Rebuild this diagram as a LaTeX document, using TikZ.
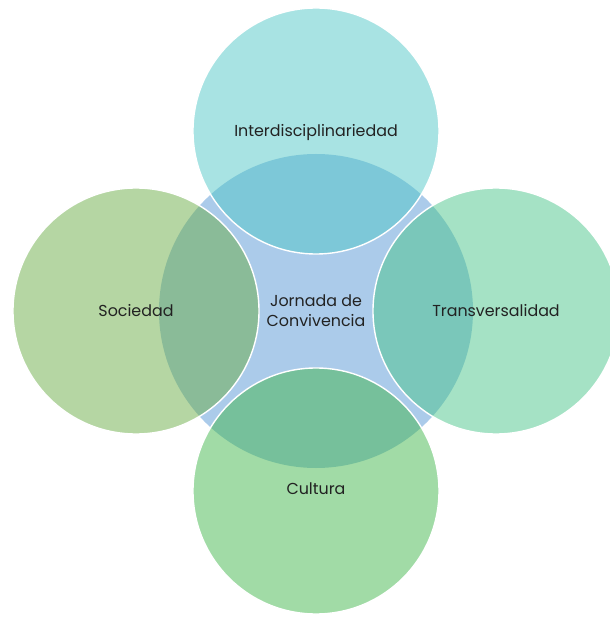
\documentclass[tikz,border=0pt]{standalone}
\usepackage{fontspec}
\setmainfont{Poppins}
\usepackage{tkz-euclide}
\usepackage{tikz}

\definecolor{topc}{RGB}{81,199,199}
\definecolor{leftc}{RGB}{107,173,71}
\definecolor{rightc}{RGB}{75,197,139}
\definecolor{botc}{RGB}{67,183,77}
\definecolor{midc}{RGB}{171,203,234}
\definecolor{txtc}{RGB}{34,34,34}

\tikzset{
  ring/.style={fill opacity=0.5, draw=white, draw opacity=1, line width=1pt},
  lbl/.style={text=txtc, font=\fontsize{11.3}{14.2}\selectfont, align=center}
}

\begin{document}
\begin{tikzpicture}
	\useasboundingbox (-7.9,-7.7) rectangle (7.35,7.775);
	\tkzDefPoint(0,0){O}
	\tkzDefPoint(0,4.5){T}
	\tkzDefPoint(-4.5,0){L}
	\tkzDefPoint(4.5,0){R}
	\tkzDefPoint(0,-4.5){B}

	%CIRCLES

	\fill[midc] (O) circle (3.925);
	\filldraw[ring, fill=topc] (T) circle (3.075);
	\filldraw[ring, fill=leftc] (L) circle (3.075);
	\filldraw[ring, fill=rightc] (R) circle (3.075);
	\filldraw[ring, fill=botc] (B) circle (3.075);

	%LABELS

	\node[lbl] (jornada) at (O) {Jornada de\\Convivencia};
	\node[lbl] (inter) at ($(T)+(0,-0.05)$) {Interdisciplinariedad};
	\node[lbl] (soc) at (L) {Sociedad};
	\node[lbl] (trans) at (R) {Transversalidad};
	\node[lbl] (cult) at ($(B)+(0,0.05)$) {Cultura};
\end{tikzpicture}
\end{document}
